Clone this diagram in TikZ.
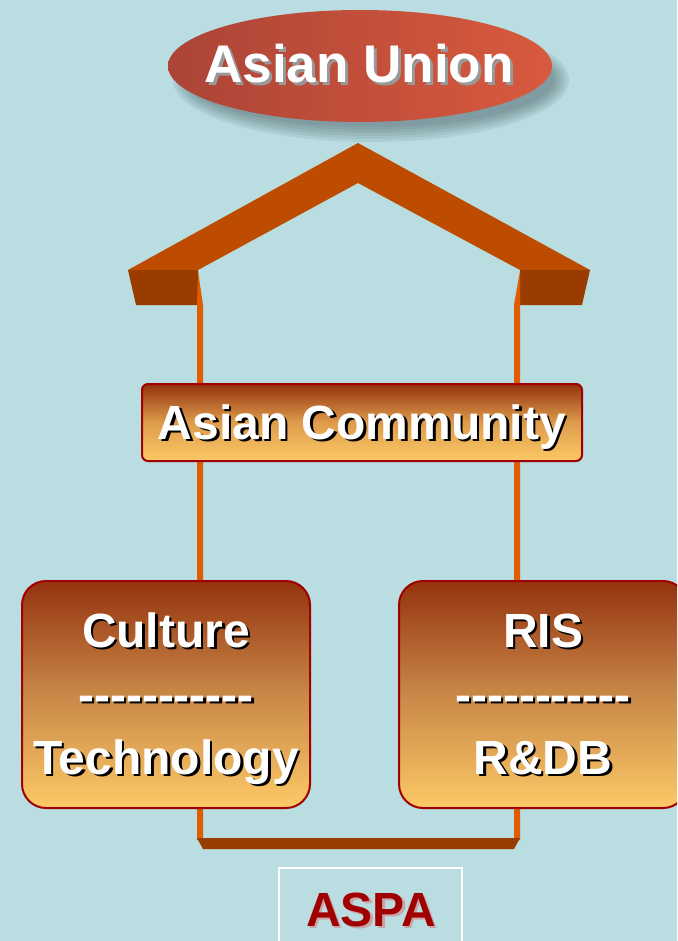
\documentclass[tikz,border=0pt]{standalone}
\usepackage{fontspec}
\newfontfamily\hf{Liberation Sans}
\usetikzlibrary{shapes.geometric}
\definecolor{bg}{HTML}{B9DDE0}
\definecolor{roofc}{HTML}{BD4B00}
\definecolor{roofdark}{HTML}{9A3C00}
\definecolor{postc}{HTML}{E05C00}
\definecolor{barc}{HTML}{983C00}
\definecolor{boxtop}{HTML}{94330E}
\definecolor{boxmid}{HTML}{C98848}
\definecolor{boxbot}{HTML}{FDC966}
\definecolor{boxline}{HTML}{A00000}
\definecolor{ellL}{HTML}{AC4437}
\definecolor{ellR}{HTML}{D85A3E}
\definecolor{shadowc}{HTML}{3A4A52}
\definecolor{aspac}{HTML}{A00000}
\definecolor{aspash}{HTML}{C9A3A6}
\newcommand\shadowed[4]{\leavevmode\rlap{\kern#2\raisebox{-#2}{\textcolor{#1}{#4}}}\textcolor{#3}{#4}}
\tikzset{
  txt/.style={inner sep=0pt, anchor=base, font=\hf\bfseries\fontsize{48}{60}\selectfont},
  gradbox/.style={draw=boxline, line width=2pt, top color=boxtop, bottom color=boxbot, middle color=boxmid, inner sep=0pt},
  postshape/.style={fill=postc},
}
\begin{document}
\begin{tikzpicture}[x=1pt,y=-1pt]
\useasboundingbox (0,0) rectangle (677,941);
\clip (0,0) rectangle (677,941);
\fill[bg] (0,0) rectangle (677,941);

% shadow of ellipse
\foreach \i in {0,...,5}
  \fill[shadowc, opacity=0.09] (371,80) ellipse [x radius={198-3*\i}, y radius={62-3*\i}];
\node[ellipse, minimum width=384pt, minimum height=112pt, inner sep=0pt, left color=ellL, right color=ellR] (union) at (360,66) {};
\node[txt, font=\hf\bfseries\fontsize{53}{60}\selectfont] (uniontxt) at (359,83) {\shadowed{gray!80}{3pt}{white}{Asian Union}};

% roof
\coordinate (apex) at (358,143);
\coordinate (innerapex) at (358,183);
\coordinate (eaveL) at (128,270);
\coordinate (eaveR) at (590,270);
\coordinate (innerL) at (198,270);
\coordinate (innerR) at (520,270);
\fill[roofc] (eaveL) -- (apex) -- (eaveR) -- (innerR) -- (innerapex) -- (innerL) -- cycle;
\fill[roofdark] (eaveL) -- (innerL) -- (198,305) -- (136,305) -- cycle;
\fill[roofdark] (innerR) -- (eaveR) -- (582,305) -- (520,305) -- cycle;

% posts
\coordinate (postLtop) at (198,271);
\coordinate (postLbot) at (203,840);
\coordinate (postRtop) at (520,271);
\coordinate (postRbot) at (514,840);
\fill[postshape] (postLtop) -- (203,305) -- (postLbot) -- (197,840) -- (197,305) -- cycle;
\fill[postshape] (postRtop) -- (postRtop |- postRbot) -- (postRbot) -- (514,305) -- cycle;

% bottom bar
\fill[barc] (197,838) -- (520,838) -- (514,849) -- (203,849) -- cycle;

% Asian Community
\node[gradbox, rounded corners=6pt, minimum width=440pt, minimum height=77pt, middle color=boxbot!70!boxtop] (community) at (362,422.5) {};
\node[txt] (communitytxt) at (362,439) {\shadowed{black}{2.5pt}{white}{Asian Community}};

% Culture / Technology
\node[gradbox, rounded corners=24pt, minimum width=288pt, minimum height=227pt] (culture) at (166,694.5) {};
\node[txt] (cult1) at (166,647) {\shadowed{black}{2.5pt}{white}{Culture}};
\node[txt] (cult2) at (166,711) {\shadowed{black}{2.5pt}{white}{-----------}};
\node[txt] (cult3) at (166,774) {\shadowed{black}{2.5pt}{white}{Technology}};

% RIS / R&DB
\node[gradbox, rounded corners=24pt, minimum width=288pt, minimum height=227pt] (ris) at (543,694.5) {};
\node[txt] (ris1) at (543,647) {\shadowed{black}{2.5pt}{white}{RIS}};
\node[txt] (ris2) at (543,711) {\shadowed{black}{2.5pt}{white}{-----------}};
\node[txt] (ris3) at (543,774) {\shadowed{black}{2.5pt}{white}{R\&DB}};

% ASPA
\draw[white, line width=1.5pt] (279,960) -- (279,868) -- (462,868) -- (462,960);
\coordinate (aspabox) at (370.5,905);
\node[txt] (aspa) at (371,926) {\shadowed{aspash}{2.5pt}{aspac}{ASPA}};
\end{tikzpicture}
\end{document}
